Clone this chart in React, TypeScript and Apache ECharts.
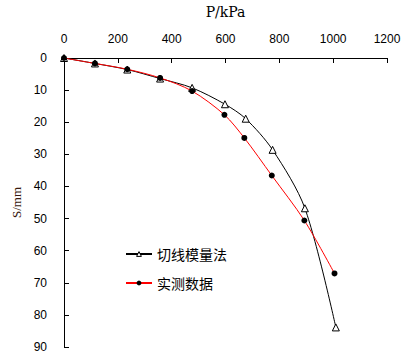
import React, { useEffect, useRef } from "react";
import * as echarts from "echarts";

const loadTangent = [0, 115, 235, 357, 476, 598, 675, 775, 895, 1010];
const settleTangent = [0, 1.7, 3.6, 6.4, 9.3, 14.4, 18.9, 28.6, 46.8, 83.9];
const loadMeasured = [0, 115, 235, 357, 476, 596, 670, 772, 893, 1005];
const settleMeasured = [0, 1.7, 3.5, 6.2, 10.3, 17.7, 24.9, 36.6, 50.6, 67.1];
const seriesNames = ["切线模量法", "实测数据"];

export default function App() {
  const ref = useRef<HTMLDivElement>(null);
  useEffect(() => {
    const chart = echarts.init(ref.current!, null, { renderer: "svg" });
    chart.setOption({
      animation: false,
      backgroundColor: "#ffffff",
      grid: { left: 64, right: 21, top: 53, bottom: 17 },
      legend: {
        orient: "vertical",
        left: 120,
        top: 242,
        itemWidth: 26,
        itemHeight: 6,
        itemGap: 15,
        textStyle: { fontSize: 14, color: "#000", fontFamily: "Noto Sans CJK SC" },
        data: [
          {
            name: seriesNames[0],
            itemStyle: { color: "#fff", borderColor: "#000", borderWidth: 1 },
          },
          {
            name: seriesNames[1],
            itemStyle: { color: "#000", borderColor: "#000", borderWidth: 0 },
          },
        ],
      },
      xAxis: {
        type: "value",
        position: "top",
        min: 0,
        max: 1200,
        interval: 200,
        name: "P/kPa",
        nameLocation: "middle",
        nameGap: 39,
        nameTextStyle: { fontFamily: "DejaVu Serif", fontSize: 14, color: "#000" },
        axisLine: { show: true, lineStyle: { color: "#000", width: 1 } },
        axisTick: { show: true, inside: true, length: 5, lineStyle: { color: "#000" } },
        axisLabel: {
          fontFamily: "Liberation Sans",
          fontSize: 12,
          color: "#000",
          margin: 13,
          formatter: (v: number) => String(v),
        },
        splitLine: { show: false },
      },
      yAxis: {
        type: "value",
        inverse: true,
        min: 0,
        max: 90,
        interval: 10,
        name: "S/mm",
        nameLocation: "middle",
        nameGap: 41,
        nameTextStyle: { fontFamily: "Liberation Serif", fontSize: 13, color: "#3a1a10" },
        axisLine: { show: true, lineStyle: { color: "#000", width: 1 } },
        axisTick: { show: true, inside: true, length: 5, lineStyle: { color: "#000" } },
        axisLabel: {
          fontFamily: "Liberation Sans",
          fontSize: 12,
          color: "#000",
          margin: 17,
          formatter: (v: number) => String(v),
        },
        splitLine: { show: false },
      },
      series: [
        {
          name: seriesNames[0],
          type: "line",
          smooth: 0.3,
          data: loadTangent.map((x, i) => [x, settleTangent[i]]),
          symbol: "triangle",
          symbolSize: 7,
          lineStyle: { color: "#000", width: 1 },
          itemStyle: { color: "#fff", borderColor: "#000", borderWidth: 1 },
          z: 2,
        },
        {
          name: seriesNames[1],
          type: "line",
          smooth: 0.3,
          data: loadMeasured.map((x, i) => [x, settleMeasured[i]]),
          symbol: "circle",
          symbolSize: 6,
          lineStyle: { color: "#ff0000", width: 1 },
          itemStyle: { color: "#000", borderColor: "#000", borderWidth: 0 },
          z: 3,
        },
      ],
    });
    return () => chart.dispose();
  }, []);
  return <div ref={ref} style={{ width: 408, height: 364, position: "absolute", left: 0, top: 0 }} />;
}
